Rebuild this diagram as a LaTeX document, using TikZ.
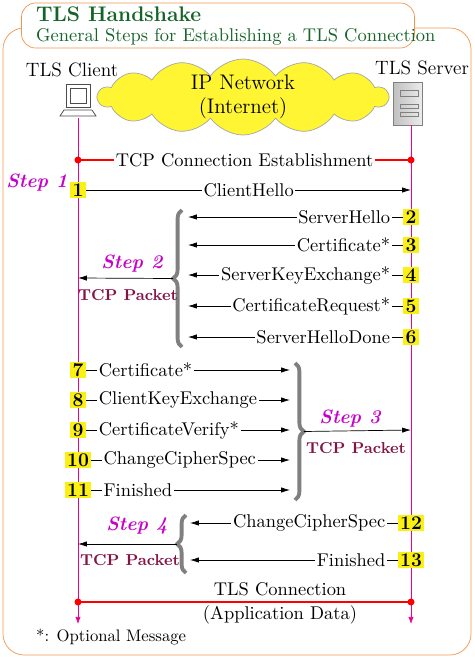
\documentclass[tikz,border=0pt]{standalone}
\usetikzlibrary{shapes.symbols,decorations.pathreplacing,arrows.meta}
\definecolor{frameor}{RGB}{240,150,80}
\definecolor{titlegr}{RGB}{20,100,40}
\definecolor{steppk}{RGB}{200,0,200}
\definecolor{pktred}{RGB}{130,20,70}
\definecolor{numyel}{RGB}{250,240,20}
\begin{document}
\begin{tikzpicture}[x=0.02cm, y=-0.02cm,
  msg/.style={font=\fontsize{10.5}{12}\selectfont, fill=white, inner sep=1pt, text=black},
  num/.style={font=\fontsize{11}{12}\selectfont\bfseries, fill=numyel, inner sep=1pt, minimum width=9pt},
  arr/.style={-{Latex[length=5pt,width=3pt]}},
  life/.style={magenta, -{Latex[length=4pt,width=3pt]}},
  brc/.style={decorate, decoration={brace, amplitude=5pt}, gray, line width=2.2pt},
  stepl/.style={font=\fontsize{11}{12}\selectfont\bfseries\itshape, text=steppk},
  pkt/.style={text=pktred, font=\fontsize{9}{11}\selectfont\bfseries}]
  \useasboundingbox (0,0) rectangle (474,659);
  % frame and title
  \draw[frameor, rounded corners=12pt] (3,28) rectangle (471,655);
  \node[draw=frameor, fill=white, rounded corners=8pt, minimum width=393*0.02cm, minimum height=45*0.02cm] (title) at (218,25.5) {};
  \node[anchor=west, text=titlegr, font=\fontsize{12}{14}\selectfont\bfseries] (tl1) at (30,14) {TLS Handshake};
  \node[anchor=west, text=titlegr, font=\fontsize{10.5}{12}\selectfont] (tl2) at (30,37) {General Steps for Establishing a TLS Connection};
  % hosts
  \node[cloud, cloud puffs=14, cloud puff arc=110, aspect=3.8, draw=gray!70, fill=yellow!80, minimum width=290*0.02cm, minimum height=76*0.02cm, inner sep=0pt] (net) at (243,97) {};
  \node[font=\fontsize{12}{14}\selectfont, align=center] (nettxt) at (net) {IP Network\\(Internet)};
  \node[font=\fontsize{11}{13}\selectfont] (cname) at (72,70) {TLS Client};
  \node[font=\fontsize{11}{13}\selectfont] (sname) at (422,68) {TLS Server};
  % client pc
  \draw[gray!60!black, fill=white] (66,84) rectangle (90,107);
  \draw[gray!60!black] (70,88) rectangle (86,103);
  \draw[gray!60!black, fill=white] (60,116) -- (96,116) -- (92,110) -- (64,110) -- cycle;
  \coordinate (ctop) at (78,118);
  % server box
  \shade[left color=gray!50, right color=gray!15, draw=gray] (393,82) rectangle (422,125);
  \draw[gray] (400,90) rectangle (418,96) (400,104) rectangle (418,108) (400,112) rectangle (418,116);
  \coordinate (stop) at (411,125);
  \coordinate (cbot) at (78,624);
  \coordinate (sbot) at (411,624);
  \draw[life] (ctop) -- (cbot);
  \draw[life] (stop) -- (sbot);
  % TCP connection
  \coordinate (tcpa) at (78,160);
  \coordinate (tcpb) at (411,160);
  \draw[red, thick] (tcpa) -- (tcpb) node[midway, msg] (tcp) {TCP Connection Establishment};
  \fill[red] (tcpa) circle (2pt) (tcpb) circle (2pt);
  % step 1
  \node[stepl] (s1) at (37,183) {Step 1};
  \node[num] (n1) at (78,190) {1};
  \coordinate (e1) at (411,190);
  \draw[arr] (n1) -- (e1) node[midway, msg] {ClientHello};
  % step 2
  \foreach \i/\y/\t in {2/217/ServerHello, 3/245/Certificate*, 4/275/ServerKeyExchange*, 5/306/CertificateRequest*, 6/337/ServerHelloDone}{
    \node[num] (n\i) at (411,\y) {\i};
    \coordinate (e\i) at (188,\y);
    \draw[arr] (n\i) -- (e\i) node[pos=0, msg, anchor=east, xshift=-6pt] {\t};
  }
  \draw[brc] (182,347) -- (182,210) coordinate[midway, xshift=-5pt] (b2);
  \coordinate (c2) at (78,278);
  \draw[arr] (b2) -- (c2);
  \node[stepl] (s2) at (132,264) {Step 2};
  \node[pkt] (p2) at (128,295) {TCP Packet};
  % step 3
  \foreach \i/\y/\t in {7/370/Certificate*, 8/400/ClientKeyExchange, 9/430/CertificateVerify*, 10/460/ChangeCipherSpec, 11/490/Finished}{
    \node[num] (n\i) at (78,\y) {\i};
    \coordinate (e\i) at (290,\y);
    \draw[arr] (n\i) -- (e\i) node[pos=0, msg, anchor=west, xshift=6pt] {\t};
  }
  \draw[brc] (295,363) -- (295,500) coordinate[midway, xshift=5pt] (b3);
  \coordinate (c3) at (411,430);
  \draw[arr] (b3) -- (c3);
  \node[stepl] (s3) at (350,419) {Step 3};
  \node[pkt] (p3) at (356,448) {TCP Packet};
  % step 4
  \foreach \i/\y/\t in {12/523/ChangeCipherSpec, 13/560/Finished}{
    \node[num] (n\i) at (411,\y) {\i};
    \coordinate (e\i) at (190,\y);
    \draw[arr] (n\i) -- (e\i) node[pos=0, msg, anchor=east, xshift=-6pt] {\t};
  }
  \draw[brc] (186,573) -- (186,515) coordinate[midway, xshift=-5pt] (b4);
  \coordinate (c4) at (78,544);
  \draw[arr] (b4) -- (c4);
  \node[stepl] (s4) at (137,526) {Step 4};
  \node[pkt] (p4) at (130,560) {TCP Packet};
  % TLS connection
  \coordinate (tlsa) at (78,602);
  \coordinate (tlsb) at (411,602);
  \draw[red, thick] (tlsa) -- (tlsb);
  \fill[red] (tlsa) circle (2pt) (tlsb) circle (2pt);
  \node[msg, fill=none] (tls1) at (280,589) {TLS Connection};
  \node[msg, fill=none] (tls2) at (280,615) {(Application Data)};
  \node[font=\fontsize{9.5}{11}\selectfont, anchor=west] (opt) at (30,637) {*: Optional Message};
\end{tikzpicture}
\end{document}
